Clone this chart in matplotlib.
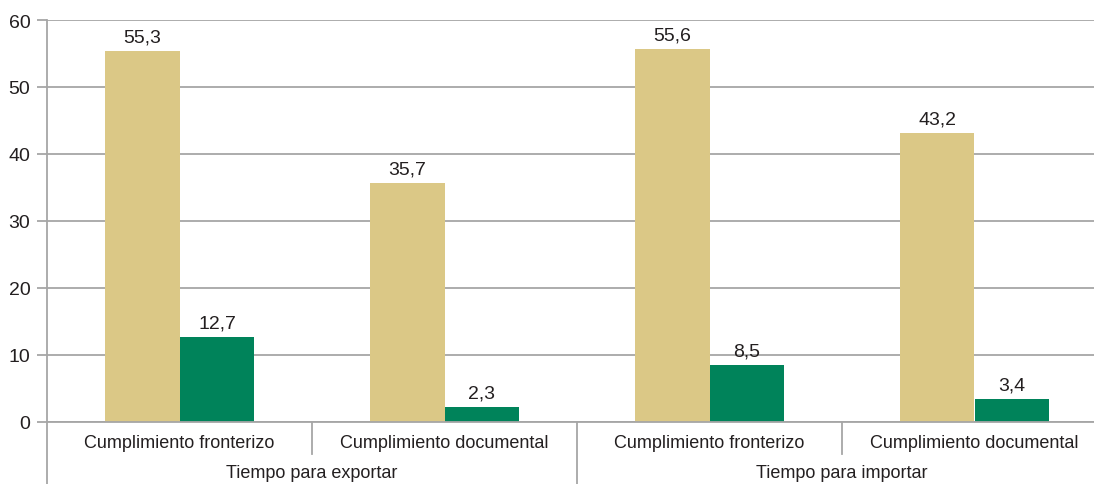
import matplotlib
matplotlib.use('Agg')
import matplotlib.pyplot as plt
import matplotlib.transforms as mtransforms
import numpy as np

plt.rcParams['font.family'] = ['Liberation Sans', 'DejaVu Sans']

# Data
categories = ['Cumplimiento fronterizo', 'Cumplimiento documental',
              'Cumplimiento fronterizo', 'Cumplimiento documental']
groups = ['Tiempo para exportar', 'Tiempo para importar']
series_a = [55.3, 35.7, 55.6, 43.2]
series_b = [12.7, 2.3, 8.5, 3.4]
y_ticks = [0, 10, 20, 30, 40, 50, 60]

tan = '#DBC886'
green = '#00835A'
grid_col = '#A6A6A6'
text_col = '#231F20'
fs = 13

W, H = 1094, 485
fig = plt.figure(figsize=(W / 100, H / 100), dpi=100)
ax = fig.add_axes([47 / W, 1 - 423 / H, 1060 / W, 402 / H])

x = np.arange(len(categories))
bw = 0.283
ax.bar(x - bw / 2, series_a, bw, color=tan, zorder=2)
ax.bar(x + bw / 2, series_b, bw, color=green, zorder=2)

for xi, v in zip(x - bw / 2, series_a):
    ax.annotate(f'{v:.1f}'.replace('.', ','), (xi, v), xytext=(0, 4),
                textcoords='offset points', ha='center', va='bottom',
                fontsize=14, color=text_col)
for xi, v in zip(x + bw / 2, series_b):
    ax.annotate(f'{v:.1f}'.replace('.', ','), (xi, v), xytext=(0, 4),
                textcoords='offset points', ha='center', va='bottom',
                fontsize=14, color=text_col)

ax.set_xlim(-0.5, len(categories) - 0.5)
ax.set_ylim(0, 60)
ax.set_yticks(y_ticks)
ax.set_yticklabels([str(t) for t in y_ticks], fontsize=14, color=text_col)
ax.yaxis.grid(True, color=grid_col, linewidth=1.3, zorder=0)
ax.set_axisbelow(True)
ax.tick_params(axis='y', length=7, width=1.3, color=grid_col, pad=5)
ax.set_xticks([])

for s in ['top', 'right']:
    ax.spines[s].set_visible(False)
for s in ['left', 'bottom']:
    ax.spines[s].set_color(grid_col)
    ax.spines[s].set_linewidth(1.3)

# Two-level category axis
trans = mtransforms.blended_transform_factory(ax.transData, ax.transAxes)
for xi, lab in zip(x, categories):
    ax.text(xi, -0.05, lab, transform=trans, ha='center', va='center',
            fontsize=fs, color=text_col)
for gi, lab in enumerate(groups):
    ax.text(2 * gi + 0.5, -0.125, lab, transform=trans, ha='center',
            va='center', fontsize=fs, color=text_col)

# separators
for xs in [0.5, 2.5]:
    ax.plot([xs, xs], [0, -0.08], transform=trans, color=grid_col,
            linewidth=1.3, clip_on=False)
for xs in [-0.5, 1.5]:
    ax.plot([xs, xs], [0, -0.16], transform=trans, color=grid_col,
            linewidth=1.3, clip_on=False)

fig.savefig('out.png', dpi=100)
